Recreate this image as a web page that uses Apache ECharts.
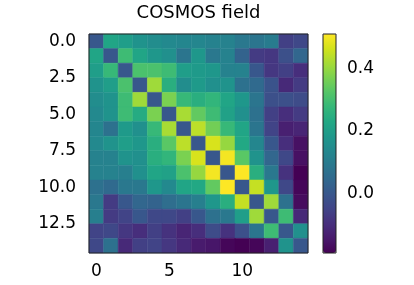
<!DOCTYPE html>
<html>
<head>
<meta charset="utf-8">
<script src="https://cdn.jsdelivr.net/npm/echarts@6/dist/echarts.min.js"></script>
<style>
    html, body {margin: 0; padding: 0; background: #fff;}
    #main {width: 414px; height: 285px;}
</style>
</head>
<body>
<div id="main"></div>
<script>
// labels / ticks
var titleText = 'COSMOS field';
var xTicks = [0, 5, 10];
var yTicks = [0, 2.5, 5, 7.5, 10, 12.5];
var cbarTicks = [0, 0.2, 0.4];
var vMin = -0.19, vMax = 0.51;

// correlation matrix, read row by row (row 0 at top)
var row0  = [0.00, 0.22, 0.20, 0.17, 0.15, 0.14, 0.13, 0.13, 0.12, 0.12, 0.09, 0.08, 0.10, -0.06, -0.04];
var row1  = [0.22, 0.00, 0.29, 0.22, 0.18, 0.16, 0.08, 0.18, 0.09, 0.12, 0.03, -0.07, -0.08, -0.02, 0.04];
var row2  = [0.20, 0.28, 0.00, 0.31, 0.31, 0.29, 0.20, 0.19, 0.18, 0.12, 0.12, 0.00, -0.08, -0.06, -0.10];
var row3  = [0.17, 0.20, 0.31, 0.00, 0.41, 0.25, 0.15, 0.19, 0.16, 0.17, 0.07, 0.05, -0.01, -0.11, -0.07];
var row4  = [0.15, 0.17, 0.29, 0.41, 0.00, 0.37, 0.28, 0.25, 0.27, 0.22, 0.18, 0.08, -0.02, -0.02, -0.03];
var row5  = [0.14, 0.17, 0.29, 0.24, 0.37, 0.00, 0.42, 0.34, 0.29, 0.21, 0.16, 0.07, -0.06, -0.10, -0.07];
var row6  = [0.13, 0.07, 0.19, 0.16, 0.28, 0.42, 0.00, 0.44, 0.36, 0.28, 0.22, 0.08, -0.05, -0.13, -0.12];
var row7  = [0.14, 0.17, 0.20, 0.18, 0.25, 0.33, 0.44, 0.00, 0.47, 0.40, 0.23, 0.13, 0.00, -0.10, -0.16];
var row8  = [0.12, 0.12, 0.17, 0.16, 0.25, 0.27, 0.37, 0.47, 0.00, 0.50, 0.33, 0.17, 0.04, -0.04, -0.16];
var row9  = [0.12, 0.12, 0.11, 0.16, 0.22, 0.21, 0.31, 0.40, 0.50, 0.00, 0.51, 0.25, 0.09, -0.09, -0.19];
var row10 = [0.07, 0.05, 0.09, 0.09, 0.18, 0.14, 0.22, 0.23, 0.34, 0.51, 0.00, 0.45, 0.18, -0.04, -0.18];
var row11 = [0.09, -0.07, 0.00, 0.04, 0.03, 0.06, 0.08, 0.11, 0.18, 0.25, 0.45, 0.00, 0.41, 0.07, -0.17];
var row12 = [0.11, -0.07, -0.05, 0.00, -0.04, -0.04, -0.06, 0.00, 0.07, 0.09, 0.20, 0.41, 0.00, 0.29, -0.11];
var row13 = [-0.05, -0.04, -0.08, -0.10, -0.06, -0.09, -0.12, -0.10, -0.03, -0.09, -0.02, 0.08, 0.29, 0.00, 0.16];
var row14 = [-0.04, 0.07, -0.11, -0.06, -0.05, -0.08, -0.11, -0.14, -0.15, -0.18, -0.19, -0.18, -0.13, 0.17, 0.00];
var corr = [row0, row1, row2, row3, row4, row5, row6, row7, row8, row9, row10, row11, row12, row13, row14];

var viridis = ['#440154', '#481a6c', '#472f7d', '#414487', '#39568c', '#31688e', '#2a788e', '#23888e',
    '#1f988b', '#22a884', '#35b779', '#54c568', '#7ad151', '#a5db36', '#d2e21b', '#fde725'];

var cells = [];
corr.forEach(function (row, i) {
    row.forEach(function (v, j) {
        cells.push([j, i, v]);
    });
});

var font = 'DejaVu Sans';
var chart = echarts.init(document.getElementById('main'), null, {renderer: 'canvas'});

var option = {
    animation: false,
    title: {
        text: titleText,
        left: 198.5,
        top: 4,
        padding: 0,
        textAlign: 'center',
        textStyle: {fontFamily: font, fontSize: 18, fontWeight: 'normal', color: '#000'}
    },
    grid: [
        {left: 89, top: 34, width: 219, height: 219, show: true, z: 10,
            backgroundColor: 'transparent', borderColor: '#222', borderWidth: 1},
        {left: 323, top: 34, width: 13, height: 219, show: true, z: 10,
            backgroundColor: 'transparent', borderColor: '#222', borderWidth: 1}
    ],
    xAxis: [
        {
            type: 'value', gridIndex: 0, min: -0.5, max: 14.5,
            axisLine: {show: false},
            splitLine: {show: false},
            axisTick: {length: 6, lineStyle: {color: '#000'}, customValues: xTicks},
            axisLabel: {customValues: xTicks, margin: 10, color: '#000', fontFamily: font, fontSize: 17}
        },
        {type: 'value', gridIndex: 1, show: false, min: 0, max: 1}
    ],
    yAxis: [
        {
            type: 'value', gridIndex: 0, min: -0.5, max: 14.5, inverse: true,
            axisLine: {show: false},
            splitLine: {show: false},
            axisTick: {length: 6, lineStyle: {color: '#000'}, customValues: yTicks},
            axisLabel: {
                customValues: yTicks, margin: 13, color: '#000', fontFamily: font, fontSize: 17,
                formatter: function (v) { return v.toFixed(1); }
            }
        },
        {
            type: 'value', gridIndex: 1, min: vMin, max: vMax, position: 'right',
            axisLine: {show: false},
            splitLine: {show: false},
            axisTick: {length: 6, lineStyle: {color: '#000'}, customValues: cbarTicks},
            axisLabel: {
                customValues: cbarTicks, margin: 11, color: '#000', fontFamily: font, fontSize: 17,
                formatter: function (v) { return v.toFixed(1); }
            }
        }
    ],
    visualMap: {
        type: 'continuous',
        min: vMin,
        max: vMax,
        dimension: 2,
        seriesIndex: 0,
        calculable: false,
        orient: 'vertical',
        left: 323,
        top: 34,
        padding: 0,
        itemWidth: 13,
        itemHeight: 219,
        text: null,
        showLabel: false,
        inRange: {color: viridis}
    },
    series: [{
        type: 'custom',
        xAxisIndex: 0,
        yAxisIndex: 0,
        data: cells,
        encode: {x: 0, y: 1},
        renderItem: function (params, api) {
            var p0 = api.coord([api.value(0) - 0.5, api.value(1) - 0.5]);
            var p1 = api.coord([api.value(0) + 0.5, api.value(1) + 0.5]);
            return {
                type: 'rect',
                shape: {
                    x: Math.min(p0[0], p1[0]),
                    y: Math.min(p0[1], p1[1]),
                    width: Math.abs(p1[0] - p0[0]),
                    height: Math.abs(p1[1] - p0[1])
                },
                style: {fill: api.visual('color'), stroke: api.visual('color'), lineWidth: 0.5}
            };
        }
    }]
};

chart.setOption(option);
</script>
</body>
</html>
